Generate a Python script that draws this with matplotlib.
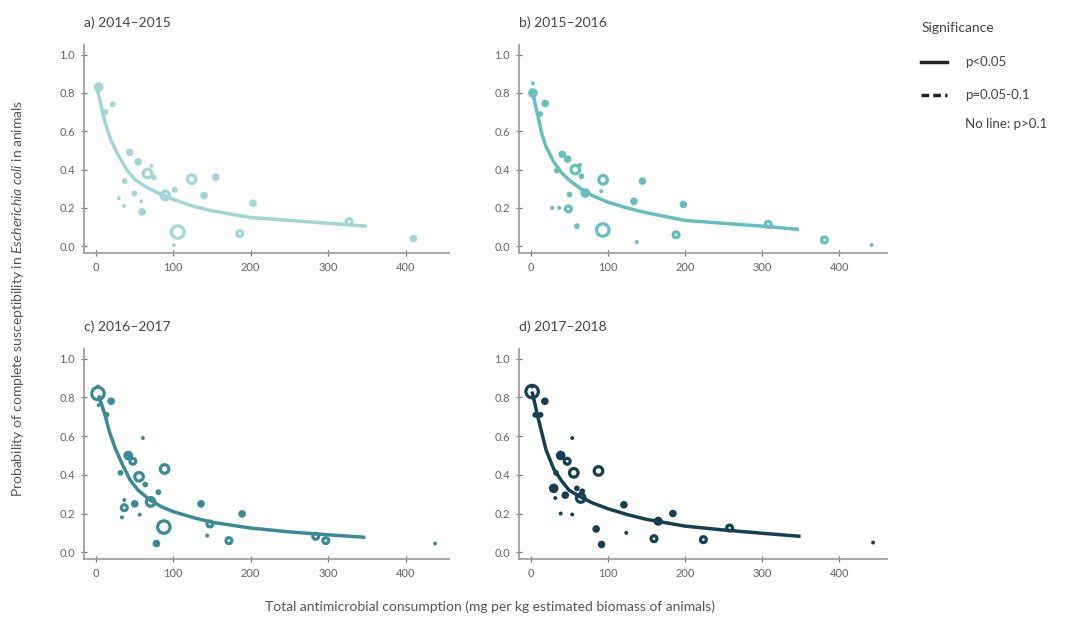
import numpy as np
from matplotlib import pyplot as plt
from matplotlib.lines import Line2D


#  -------------------------------------------  data  ------------------------------------------  #

titles = ["a) 2014–2015", "b) 2015–2016", "c) 2016–2017", "d) 2017–2018"]
colors = ["#a2d5d6", "#66bfbf", "#3b8a97", "#173f52"]

# filled markers: consumption, probability, weight class (1 = tiny ... 4 = medium)
a_x = [3.9, 22, 12.5, 44, 55, 37.5, 72, 75, 50, 30, 36.6, 59, 60, 102, 140, 155, 101, 203, 410]
a_y = [0.83, 0.74, 0.70, 0.49, 0.44, 0.34, 0.42, 0.36, 0.275, 0.25, 0.21, 0.235, 0.18, 0.295, 0.265, 0.36, 0.005, 0.225, 0.04]
a_w = [4, 2, 2, 3, 3, 2, 1, 2, 2, 1, 1, 1, 3, 2, 3, 3, 1, 3, 3]
# open rings: consumption, probability, weight class (1 = small ... 3 = large)
a_rx = [67, 90, 124, 106, 186, 327]
a_ry = [0.38, 0.265, 0.35, 0.074, 0.066, 0.128]
a_rw = [2, 2, 2, 3, 1, 1]

b_x = [3, 3, 19, 12.5, 41, 48, 34, 64, 66, 91.5, 50.5, 71, 28, 37, 145, 134, 198, 60, 137.6, 442]
b_y = [0.85, 0.80, 0.745, 0.69, 0.48, 0.455, 0.395, 0.425, 0.365, 0.287, 0.27, 0.278, 0.20, 0.20, 0.34, 0.235, 0.218, 0.105, 0.022, 0.007]
b_w = [1, 4, 3, 2, 3, 3, 2, 1, 2, 1, 2, 4, 1, 1, 3, 3, 3, 2, 1, 1]
b_rx = [58, 94, 49, 93.6, 188.6, 308, 381]
b_ry = [0.40, 0.347, 0.195, 0.085, 0.06, 0.114, 0.033]
b_rw = [2, 2, 1, 3, 1, 1, 1]

c_x = [3, 20, 4, 14, 61, 42, 32, 64, 81, 37, 50.5, 34, 57, 78.5, 136, 144, 189, 438]
c_y = [0.856, 0.78, 0.76, 0.71, 0.59, 0.50, 0.41, 0.35, 0.31, 0.27, 0.25, 0.18, 0.194, 0.045, 0.25, 0.086, 0.198, 0.045]
c_w = [1, 3, 1, 2, 1, 4, 2, 2, 2, 1, 3, 1, 1, 3, 3, 1, 3, 1]
c_rx = [3, 48, 89, 56, 71, 37, 88, 147.5, 172, 284, 297]
c_ry = [0.82, 0.47, 0.43, 0.39, 0.26, 0.23, 0.13, 0.146, 0.06, 0.082, 0.06]
c_rw = [3, 1, 2, 2, 2, 1, 3, 1, 1, 1, 1]

d_x = [2, 18.5, 6, 13, 54, 39, 33, 30, 60, 67, 45, 32, 39, 54, 121, 85, 92, 124, 184.5, 444]
d_y = [0.856, 0.78, 0.71, 0.71, 0.59, 0.50, 0.41, 0.33, 0.33, 0.315, 0.295, 0.28, 0.20, 0.195, 0.245, 0.12, 0.04, 0.10, 0.20, 0.05]
d_w = [1, 3, 2, 2, 1, 4, 2, 4, 2, 2, 3, 1, 1, 1, 3, 3, 3, 1, 3, 1]
d_rx = [2, 47.5, 88, 56, 65, 165.5, 160, 224, 258]
d_ry = [0.83, 0.47, 0.42, 0.41, 0.28, 0.16, 0.07, 0.065, 0.125]
d_rw = [3, 1, 2, 2, 2, 1, 1, 1, 1]

# fitted curves
a_cx = [2, 5, 10, 15, 20, 30, 40, 50, 65, 80, 100, 125, 150, 200, 250, 300, 350]
a_cy = [0.82, 0.77, 0.68, 0.61, 0.55, 0.47, 0.40, 0.35, 0.31, 0.28, 0.245, 0.21, 0.185, 0.15, 0.135, 0.12, 0.105]
b_cx = [3, 6, 10, 15, 20, 30, 40, 50, 65, 80, 100, 125, 150, 200, 250, 300, 348]
b_cy = [0.80, 0.74, 0.67, 0.58, 0.52, 0.44, 0.385, 0.345, 0.30, 0.265, 0.23, 0.20, 0.175, 0.135, 0.12, 0.105, 0.088]
c_cx = [4, 8, 12, 18, 25, 35, 45, 55, 70, 85, 100, 125, 150, 200, 250, 300, 348]
c_cy = [0.81, 0.76, 0.71, 0.62, 0.54, 0.45, 0.37, 0.32, 0.27, 0.235, 0.21, 0.18, 0.155, 0.125, 0.105, 0.09, 0.077]
d_cx = [2, 6, 10, 15, 20, 30, 40, 50, 65, 80, 100, 125, 150, 200, 250, 300, 350]
d_cy = [0.83, 0.76, 0.69, 0.61, 0.53, 0.43, 0.37, 0.32, 0.285, 0.255, 0.225, 0.195, 0.17, 0.135, 0.115, 0.098, 0.082]

panels = [
    (a_x, a_y, a_w, a_rx, a_ry, a_rw, a_cx, a_cy),
    (b_x, b_y, b_w, b_rx, b_ry, b_rw, b_cx, b_cy),
    (c_x, c_y, c_w, c_rx, c_ry, c_rw, c_cx, c_cy),
    (d_x, d_y, d_w, d_rx, d_ry, d_rw, d_cx, d_cy),
]


#  -------------------------------------------  plot  ------------------------------------------  #

plt.rcParams.update({"font.family": "Lato", "mathtext.fontset": "custom",
                     "mathtext.it": "Lato:italic", "mathtext.rm": "Lato"})

fig = plt.figure(figsize=(10.7, 6.23), dpi=100)
W, H = 1070, 623

fill_size = {1: 8, 2: 17, 3: 30, 4: 48}
ring_size = {1: 18, 2: 38, 3: 80}

# axes boxes in pixels: left, top, right, bottom
boxes = [(84, 45, 449, 253), (519, 45, 887, 253), (84, 349, 449, 559), (519, 349, 887, 559)]

for i, (box, p) in enumerate(zip(boxes, panels)):
    l, t, r, b = box
    ax = fig.add_axes([l / W, 1 - b / H, (r - l) / W, (b - t) / H])
    x, y, w, rx, ry, rw, cx, cy = p
    col = colors[i]

    ax.plot(cx, cy, '-', c=col, lw=2.5, solid_capstyle='butt', solid_joinstyle='round', zorder=2)
    ax.scatter(x, y, s=[fill_size[k] for k in w], c=col, edgecolors='none', zorder=3)
    ax.scatter(rx, ry, s=[ring_size[k] for k in rw], facecolors='none', edgecolors=col,
               linewidths=2.3, zorder=3)

    ax.set_xlim(-15, 462 if i % 2 else 456)
    ax.set_ylim(-0.035, 1.05)
    ax.set_xticks(np.arange(0, 401, 100))
    ax.set_yticks(np.linspace(0, 1, 6))
    ax.set_yticklabels(["0.0", "0.2", "0.4", "0.6", "0.8", "1.0"])
    for s in ("top", "right"):
        ax.spines[s].set_visible(False)
    for s in ("left", "bottom"):
        ax.spines[s].set_color("#a0a0a0")
        ax.spines[s].set_linewidth(1.3)
    ax.tick_params(direction='inout', length=5, width=0.9, color="#777777",
                   labelsize=8, labelcolor="#666666", pad=4)
    ax.set_title(titles[i], loc='left', fontsize=10, color="#444444", pad=13, x=0.0)

fig.text(18 / W, 1 - 298 / H,
         r"Probability of complete susceptibility in $\it{Escherichia\ coli}$ in animals",
         rotation=90, ha='center', va='center', fontsize=10, color="#555555")
fig.text(490 / W, 1 - 607 / H,
         "Total antimicrobial consumption (mg per kg estimated biomass of animals)",
         ha='center', va='center', fontsize=10, color="#555555")

# significance key
fig.text(922 / W, 1 - 28 / H, "Significance", ha='left', va='center', fontsize=10, color="#444444")
fig.add_artist(Line2D([921 / W, 947 / W], [1 - 62 / H, 1 - 62 / H], lw=2.5, c="#222222"))
fig.add_artist(Line2D([921 / W, 947 / W], [1 - 95 / H, 1 - 95 / H], lw=2.5, c="#222222",
                      ls=(0, (2.2, 1.2))))
fig.text(965 / W, 1 - 62 / H, "p<0.05", ha='left', va='center', fontsize=9.5, color="#444444")
fig.text(965 / W, 1 - 95 / H, "p=0.05-0.1", ha='left', va='center', fontsize=9.5, color="#444444")
fig.text(965 / W, 1 - 124 / H, "No line: p>0.1", ha='left', va='center', fontsize=9.5, color="#444444")

plt.savefig("out.png", dpi=100)
